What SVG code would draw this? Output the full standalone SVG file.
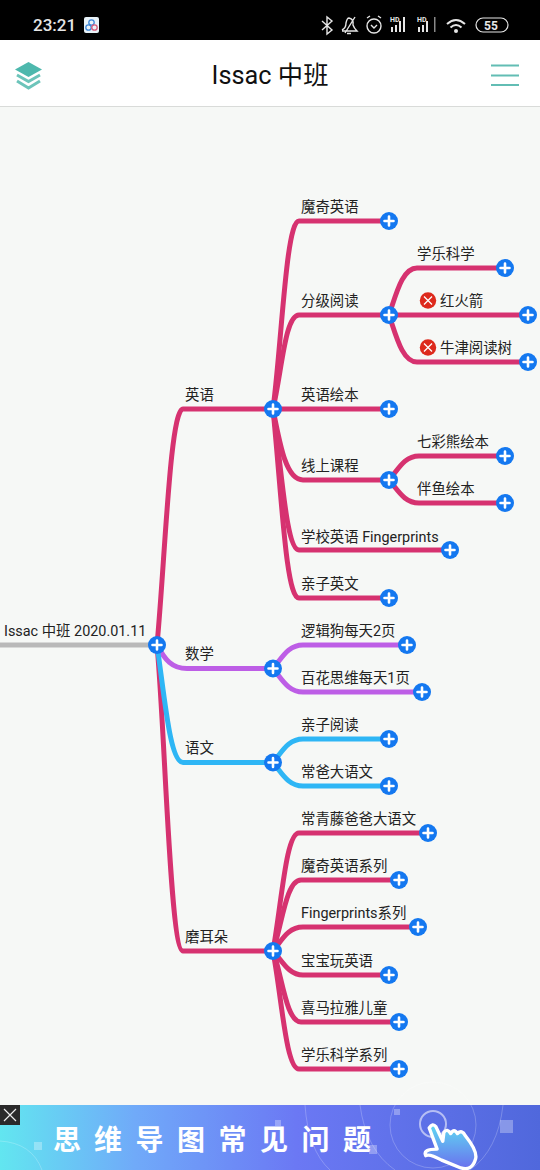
<svg xmlns="http://www.w3.org/2000/svg" width="540" height="1170" viewBox="0 0 540 1170">
<style>
text{font-family:"Roboto","Noto Sans CJK SC",sans-serif}
.l{font-size:14.4px;fill:#222}
.c{fill:none;stroke-width:5;stroke-linecap:round}
.r{stroke:#d63270}.p{stroke:#bd5ee6}.b{stroke:#2eb6f5}.g{stroke:#b9b9b9}
.st{font-size:17px;fill:#e6e6e6;font-weight:500}
.ic{fill:none;stroke:#e6e6e6;stroke-width:1.4}
.ad{font-size:28px;fill:#fff;font-weight:700}
.rg{fill:none;stroke:#fff;stroke-opacity:.22;stroke-width:1}
.sq{fill:#fff;fill-opacity:.3}
</style>
<defs>
<g id="plus"><circle r="9" fill="#1478f0"/><path d="M-4.500 0H4.500M0-4.500V4.500" stroke="#fff" stroke-width="2.600" stroke-linecap="round"/></g>
<g id="no"><circle r="8.200" fill="#dd2a1d"/><path d="M-4-4L4 4M4-4L-4 4" stroke="#fff" stroke-width="1.300"/></g>
<linearGradient id="ad" x1="0" x2="1" y1="0" y2="0"><stop offset="0" stop-color="#62e6f0"/><stop offset=".25" stop-color="#70aaf9"/><stop offset=".55" stop-color="#6b78f4"/><stop offset="1" stop-color="#5068dc"/></linearGradient>
<linearGradient id="hand" x1="0" x2="0" y1="0" y2="1"><stop offset="0" stop-color="#5fd8f2"/><stop offset="1" stop-color="#6a70ee"/></linearGradient>
</defs>
<rect width="540" height="1170" fill="#f6f8f6"/>
<g id="status-bar">
<rect width="540" height="40" fill="#000"/>
<text class="st" x="33" y="31">23:21</text>
<rect x="84" y="17" width="15" height="16" rx="2" fill="#e8f2f8"/>
<g fill="none" stroke="#3b86d8" stroke-width="1.300"><circle cx="91.500" cy="22.500" r="2.700"/><circle cx="88.500" cy="27.500" r="2.700"/><circle cx="94.500" cy="27.500" r="2.700" stroke="#d85a7a"/></g>
<path class="ic" d="M322 21L332 30L327 34V17L332 21L322 30"/>
<path class="ic" d="M342 30Q346 28 346 23Q347 18 349 18Q354 19 353 25Q354 28 357 31H342M345 33L355 17M347 33.500H351"/>
<circle class="ic" cx="374" cy="26" r="7"/><path class="ic" d="M371 25L374 28L377 25M367 18L370 16M381 18L378 16"/>
<text x="390" y="22" font-size="7" font-weight="700" fill="#e6e6e6">HD</text>
<path d="M391 27h2v5h-2zM395 25h2v7h-2zM399 21h2v11h-2zM403 17h2v15h-2z" fill="#e6e6e6"/>
<text x="417" y="22" font-size="7" font-weight="700" fill="#e6e6e6">HD</text>
<path d="M418 27h2v5h-2zM422 25h2v7h-2zM426 21h2v11h-2z" fill="#e6e6e6"/><path d="M434 17h1.500v15h-1.500z" fill="#888"/>
<path d="M447 24Q456 16 465 24M450.500 27.500Q456 22.500 461.500 27.500" fill="none" stroke="#e6e6e6" stroke-width="2"/><circle cx="456" cy="31" r="2" fill="#e6e6e6"/>
<rect x="476" y="18" width="32" height="14" rx="7" fill="none" stroke="#e6e6e6" stroke-width="1.200"/>
<text x="491" y="29.500" font-size="12" font-weight="700" fill="#e6e6e6" text-anchor="middle">55</text>
</g>
<g id="header">
<rect y="40" width="540" height="66" fill="#fff"/>
<rect y="106" width="540" height="1" fill="#d9dbd9"/>
<path d="M28.500 62L42 69.500L28.500 77L15 69.500Z" fill="#4db8ad"/>
<path d="M17 75L28.500 81.500L40 75M17 81L28.500 88L40 81" fill="none" stroke="#6cc4ba" stroke-width="3"/>
<text x="270" y="84" font-size="25.300" fill="#111" text-anchor="middle">Issac 中班</text>
<path d="M491 65.500H519M491 75.500H519M491 85H519" stroke="#62bdb4" stroke-width="2.200"/>
</g>
<g id="connectors">
<path class="c g" d="M0 645H157"/>
<path class="c r" d="M157 645C165 560 170 409 183 409H273"/>
<path class="c r" d="M157 645C165 730 170 951 183 951H273"/>
<path class="c p" d="M157 645C165 660 172 668.500 187 668.500H273"/>
<path class="c b" d="M157 645C165 700 170 762.500 183 762.500H273"/>
<path class="c r" d="M273 409C282 340 286 221 299 221H389"/>
<path class="c r" d="M273 409C282 370 285 315 299 315H389"/>
<path class="c r" d="M273 409H389"/>
<path class="c r" d="M273 409C280 445 286 480 303 480H389"/>
<path class="c r" d="M273 409C282 470 286 550 299 550H450"/>
<path class="c r" d="M273 409C282 500 286 598 299 598H389"/>
<path class="c r" d="M389 315C396 295 402 268 417 268H505"/>
<path class="c r" d="M389 315H528"/>
<path class="c r" d="M389 315C396 335 402 362 417 362H528"/>
<path class="c r" d="M389 480C398 470 404 456 419 456H505"/>
<path class="c r" d="M389 480C398 490 404 503 419 503H505"/>
<path class="c p" d="M273 668.500C282 658 288 645 303 645H407"/>
<path class="c p" d="M273 668.500C282 679 288 692 303 692H422"/>
<path class="c b" d="M273 762.500C282 752 288 739 303 739H389"/>
<path class="c b" d="M273 762.500C282 773 288 786 303 786H389"/>
<path class="c r" d="M273 951C282 900 286 833 299 833H428"/>
<path class="c r" d="M273 951C282 925 286 880 301 880H399"/>
<path class="c r" d="M273 951C282 940 288 927 303 927H418"/>
<path class="c r" d="M273 951C282 960 288 975 303 975H389"/>
<path class="c r" d="M273 951C282 975 286 1022 301 1022H399"/>
<path class="c r" d="M273 951C282 1000 286 1069 299 1069H399"/>
</g>
<g id="root"><text class="l" x="4" y="636">Issac 中班 2020.01.11</text><use href="#plus" x="157" y="645"/></g>
<g id="n-yingyu"><text class="l" x="185" y="400">英语</text><use href="#plus" x="273" y="409"/></g>
<g id="n-shuxue"><text class="l" x="185" y="659">数学</text><use href="#plus" x="273" y="668.500"/></g>
<g id="n-yuwen"><text class="l" x="185" y="753">语文</text><use href="#plus" x="273" y="762.500"/></g>
<g id="n-moerduo"><text class="l" x="185" y="941.500">磨耳朵</text><use href="#plus" x="273" y="951"/></g>
<g id="n1"><text class="l" x="301" y="212">魔奇英语</text><use href="#plus" x="389" y="221"/></g>
<g id="n2"><text class="l" x="301" y="306">分级阅读</text><use href="#plus" x="389" y="315"/></g>
<g id="n3"><text class="l" x="301" y="400">英语绘本</text><use href="#plus" x="389" y="409"/></g>
<g id="n4"><text class="l" x="301" y="471">线上课程</text><use href="#plus" x="389" y="480"/></g>
<g id="n5"><text class="l" x="301" y="541.500">学校英语 Fingerprints</text><use href="#plus" x="450" y="550"/></g>
<g id="n6"><text class="l" x="301" y="589">亲子英文</text><use href="#plus" x="389" y="598"/></g>
<g id="n7"><text class="l" x="417" y="259">学乐科学</text><use href="#plus" x="505" y="268"/></g>
<g id="n8"><use href="#no" x="428" y="300.500"/><text class="l" x="440" y="306">红火箭</text><use href="#plus" x="528" y="315"/></g>
<g id="n9"><use href="#no" x="428" y="347.500"/><text class="l" x="440" y="353">牛津阅读树</text><use href="#plus" x="528" y="362"/></g>
<g id="n10"><text class="l" x="417" y="447">七彩熊绘本</text><use href="#plus" x="505" y="456"/></g>
<g id="n11"><text class="l" x="417" y="494">伴鱼绘本</text><use href="#plus" x="505" y="503"/></g>
<g id="n12"><text class="l" x="301" y="636">逻辑狗每天2页</text><use href="#plus" x="407" y="645"/></g>
<g id="n13"><text class="l" x="301" y="683">百花思维每天1页</text><use href="#plus" x="422" y="692"/></g>
<g id="n14"><text class="l" x="301" y="730">亲子阅读</text><use href="#plus" x="389" y="739"/></g>
<g id="n15"><text class="l" x="301" y="777">常爸大语文</text><use href="#plus" x="389" y="786"/></g>
<g id="n16"><text class="l" x="301" y="824">常青藤爸爸大语文</text><use href="#plus" x="428" y="833"/></g>
<g id="n17"><text class="l" x="301" y="871">魔奇英语系列</text><use href="#plus" x="399" y="880"/></g>
<g id="n18"><text class="l" x="301" y="918">Fingerprints系列</text><use href="#plus" x="418" y="927"/></g>
<g id="n19"><text class="l" x="301" y="966">宝宝玩英语</text><use href="#plus" x="389" y="975"/></g>
<g id="n20"><text class="l" x="301" y="1013">喜马拉雅儿童</text><use href="#plus" x="399" y="1022"/></g>
<g id="n21"><text class="l" x="301" y="1060">学乐科学系列</text><use href="#plus" x="399" y="1069"/></g>
<g id="ad-banner">
<rect y="1105" width="540" height="65" fill="url(#ad)"/>
<path class="rg" d="M0 1141Q32 1143 42 1170M305 1105Q308 1150 330 1170M360 1105Q366 1150 395 1170M503 1105Q498 1150 470 1170"/>
<circle class="rg" cx="433" cy="1125" r="43"/>
<rect class="sq" x="34" y="1142" width="8" height="8"/><rect class="sq" x="500" y="1120" width="13" height="13"/><rect class="sq" x="369" y="1145" width="8" height="9"/><rect class="sq" x="394" y="1109" width="6" height="6"/><rect class="sq" x="275" y="1120" width="6" height="6"/>
<text class="ad" x="53" y="1150">思</text><text class="ad" x="94" y="1150">维</text><text class="ad" x="135.500" y="1150">导</text><text class="ad" x="177" y="1150">图</text><text class="ad" x="218.500" y="1150">常</text><text class="ad" x="260" y="1150">见</text><text class="ad" x="301.500" y="1150">问</text><text class="ad" x="343" y="1150">题</text>
<circle cx="433" cy="1124" r="13" fill="none" stroke="#fff" stroke-opacity=".55" stroke-width="2"/>
<path transform="translate(-42 -123) scale(1.130 1.110)" d="M417 1127Q420 1122 423 1126L429 1139L430 1131Q433 1127 436 1132Q439 1127 442 1132Q446 1128 449 1134Q460 1148 458 1155Q455 1166 445 1163L428 1156Q417 1150 414 1152Q411 1146 424 1146Z" fill="url(#hand)" stroke="#fff" stroke-width="3" stroke-linejoin="round"/>
<rect y="1105" width="20" height="20" fill="#2a2a2a"/>
<path d="M4 1109L16 1121M16 1109L4 1121" stroke="#eee" stroke-width="1.200"/>
</g>
</svg>
